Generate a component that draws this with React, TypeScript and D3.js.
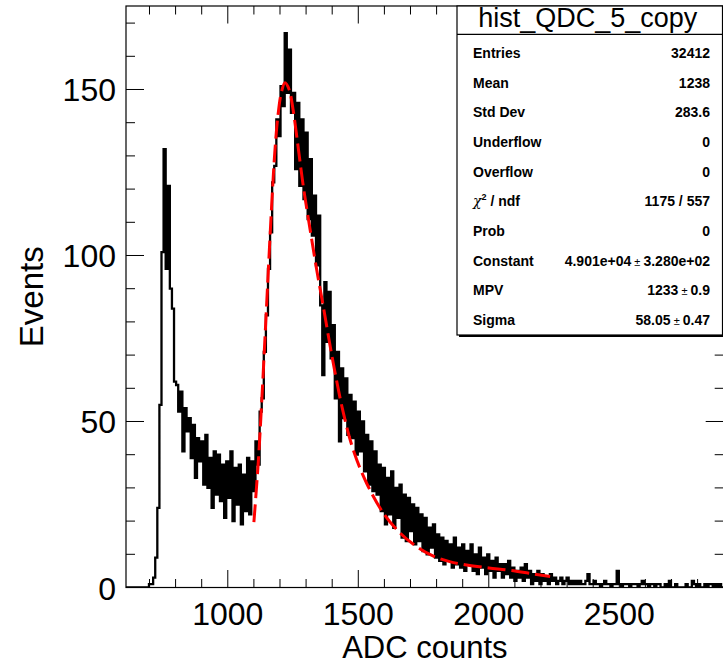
import React from "react";
import * as d3 from "d3";

// ---- data ----
const BIN_START = 610;
const BIN_WIDTH = 8;
const binCounts: number[] = [
  0, 0, 0, 0, 0, 0, 0, 0, 0, 0,
  0, 1, 1, 3, 9, 24, 55, 101, 132, 96,
  121, 90, 84, 62, 61, 53, 59, 41, 54, 47,
  51, 39, 49, 33, 45, 38, 44, 31, 46, 30,
  39, 24, 41, 28, 40, 26, 37, 21, 38, 27,
  41, 20, 36, 25, 37, 19, 34, 23, 39, 22,
  38, 29, 44, 37, 53, 57, 71, 82, 96, 107,
  122, 127, 141, 136, 151, 145, 167, 149, 162, 143,
  149, 126, 146, 121, 141, 117, 137, 111, 129, 106,
  118, 97, 112, 85, 64, 92, 74, 89, 69, 79,
  57, 71, 44, 66, 51, 63, 46, 58, 45, 56,
  40, 53, 41, 50, 35, 46, 31, 44, 29, 41,
  28, 37, 23, 36, 19, 33, 22, 35, 18, 30,
  21, 31, 15, 28, 14, 27, 17, 25, 13, 24,
  14, 22, 11, 21, 10, 18, 12, 19, 9, 16,
  8, 15, 7, 14, 8, 13, 6, 15, 7, 12,
  6, 13, 5, 11, 7, 13, 5, 10, 4, 12,
  6, 9, 4, 10, 5, 8, 3, 9, 5, 7,
  3, 7, 4, 8, 3, 6, 2, 5, 3, 6,
  2, 7, 3, 5, 1, 4, 2, 5, 1, 4,
  2, 3, 1, 4, 2, 3, 1, 2, 3, 1,
  2, 3, 1, 2, 1, 2, 1, 2, 1, 1,
  2, 4, 1, 1, 2, 1, 1, 0, 1, 2,
  1, 1, 0, 1, 1, 5, 1, 0, 1, 1,
  1, 0, 1, 1, 1, 0, 1, 2, 1, 1,
  0, 1, 1, 0, 1, 1, 0, 0, 1, 0,
  2, 0, 0, 1, 0, 0, 0, 0, 1, 0,
  0, 2, 1, 0, 1, 0, 0, 1, 0, 1,
  1, 0, 1, 0, 1, 0, 0,
];

const fitX: number[] = [1100, 1117, 1130, 1143, 1155, 1168, 1180, 1192, 1205, 1219, 1235, 1250, 1264, 1289, 1315, 1340, 1366, 1404, 1443, 1481, 1532, 1596, 1660, 1720, 1786, 1850, 1915, 2000, 2079, 2160, 2235];
const fitY: number[] = [19.7, 38, 56, 76, 95, 115, 131, 142, 149, 152, 150, 144, 136, 121, 108, 96, 84.6, 67.6, 52.5, 41.4, 31.4, 22.4, 16.4, 12.5, 9.5, 7.8, 6.8, 5.9, 5.2, 4.2, 3.3];

const xMajorTicks: number[] = [1000, 1500, 2000, 2500];
const xMinorTicks: number[] = [700, 800, 900, 1100, 1200, 1300, 1400, 1600, 1700, 1800, 1900, 2100, 2200, 2300, 2400, 2600, 2700, 2800];
const yMajorTicks: number[] = [0, 50, 100, 150];
const yMinorTicks: number[] = [10, 20, 30, 40, 60, 70, 80, 90, 110, 120, 130, 140, 160, 170];

const statsTitle = "hist_QDC_5_copy";
const statLabels: string[] = ["Entries", "Mean", "Std Dev", "Underflow", "Overflow", "CHI2", "Prob", "Constant", "MPV", "Sigma"];
const statValues: string[] = ["32412", "1238", "283.6", "0", "0", "1175 / 557", "0", "4.901e+04", "1233", "58.05"];
const statErrors: string[] = ["", "", "", "", "", "", "", "3.280e+02", "0.9", "0.47"];

const xTitle = "ADC counts";
const yTitle = "Events";

// ---- layout ----
const W = 723;
const H = 664;
const L = 126, R = 723.7, T = 6, B = 587.5;
const FONT = "'Liberation Sans', Arial, Helvetica, sans-serif";

export default function App() {
  const x = d3.scaleLinear().domain([610, 2900]).range([L, R]);
  const y = d3.scaleLinear().domain([0, 175.15]).range([B, T]);

  const pts: [number, number][] = binCounts.map((c, i) => [BIN_START + i * BIN_WIDTH, c]);
  pts.push([BIN_START + binCounts.length * BIN_WIDTH, binCounts[binCounts.length - 1]]);
  const histPath = d3
    .line<[number, number]>()
    .x((d) => x(d[0]))
    .y((d) => y(d[1]))
    .curve(d3.curveStepAfter)(pts) as string;

  const fitPts: [number, number][] = fitX.map((v, i) => [v, fitY[i]]);
  const fitPath = d3
    .line<[number, number]>()
    .x((d) => x(d[0]))
    .y((d) => y(d[1]))
    .curve(d3.curveCatmullRom.alpha(0.5))(fitPts) as string;

  const xMajLen = 17.5, xMinLen = 8.5, yMajLen = 18, yMinLen = 9;

  // stats box geometry
  const bx0 = 457, bx1 = 722.5, by0 = T, by1 = 335;
  const rowBase0 = 58, rowStep = 29.67;

  return (
    <svg
      width={W}
      height={H}
      style={{ position: "absolute", left: 0, top: 0, background: "#fff" }}
      fontFamily={FONT}
    >
      <rect x={0} y={0} width={W} height={H} fill="#fff" />
      <defs>
        <clipPath id="frameClip">
          <rect x={L} y={T} width={R - L} height={B - T} />
        </clipPath>
      </defs>

      <g clipPath="url(#frameClip)">
        <path d={histPath} fill="none" stroke="#000" strokeWidth={2.3} strokeLinejoin="miter" />
        <path d={fitPath} fill="none" stroke="#ff0000" strokeWidth={3} strokeDasharray="18 6" />
      </g>

      {/* frame */}
      <rect x={L} y={T} width={R - L} height={B - T} fill="none" stroke="#000" strokeWidth={1.2} />

      {/* x ticks bottom & top */}
      {xMajorTicks.map((t) => (
        <g key={"xM" + t}>
          <line x1={x(t)} x2={x(t)} y1={B} y2={B - xMajLen} stroke="#000" strokeWidth={1} />
          <line x1={x(t)} x2={x(t)} y1={T} y2={T + xMajLen} stroke="#000" strokeWidth={1} />
          <text x={x(t)} y={625} fontSize={32} textAnchor="middle" fill="#000">
            {t}
          </text>
        </g>
      ))}
      {xMinorTicks.map((t) => (
        <g key={"xm" + t}>
          <line x1={x(t)} x2={x(t)} y1={B} y2={B - xMinLen} stroke="#000" strokeWidth={1} />
          <line x1={x(t)} x2={x(t)} y1={T} y2={T + xMinLen} stroke="#000" strokeWidth={1} />
        </g>
      ))}

      {/* y ticks left & right */}
      {yMajorTicks.map((t) => (
        <g key={"yM" + t}>
          <line x1={L} x2={L + yMajLen} y1={y(t)} y2={y(t)} stroke="#000" strokeWidth={1} />
          <line x1={R} x2={R - yMajLen} y1={y(t)} y2={y(t)} stroke="#000" strokeWidth={1} />
          <text x={116} y={y(t) + 12} fontSize={32} textAnchor="end" fill="#000">
            {t}
          </text>
        </g>
      ))}
      {yMinorTicks.map((t) => (
        <g key={"ym" + t}>
          <line x1={L} x2={L + yMinLen} y1={y(t)} y2={y(t)} stroke="#000" strokeWidth={1} />
          <line x1={R} x2={R - yMinLen} y1={y(t)} y2={y(t)} stroke="#000" strokeWidth={1} />
        </g>
      ))}

      {/* axis titles */}
      <text x={(L + R) / 2} y={658} fontSize={31} textAnchor="middle" fill="#000">
        {xTitle}
      </text>
      <text
        transform={`translate(43, ${(T + B) / 2}) rotate(-90)`}
        fontSize={33}
        textAnchor="middle"
        fill="#000"
      >
        {yTitle}
      </text>

      {/* stats box */}
      <rect x={bx0 + 2} y={by0 + 2} width={bx1 - bx0} height={by1 - by0} fill="#000" />
      <rect x={bx0} y={by0} width={bx1 - bx0} height={by1 - by0} fill="#fff" stroke="#000" strokeWidth={1.2} />
      <line x1={bx0} x2={bx1} y1={34.3} y2={34.3} stroke="#000" strokeWidth={1.2} />
      <text x={(bx0 + bx1) / 2 - 2} y={27} fontSize={27} textAnchor="middle" fill="#000">
        {statsTitle}
      </text>
      {statLabels.map((lab, i) => {
        const yy = rowBase0 + i * rowStep;
        return (
          <g key={"s" + i}>
            <text x={473} y={yy} fontSize={14} fontWeight="bold" fill="#000">
              {lab === "CHI2" ? (
                <>
                  <tspan fontWeight="normal" fontStyle="italic" fontFamily="'DejaVu Serif', serif" fontSize={14}>
                    χ
                  </tspan>
                  <tspan fontSize={9} dy={-6}>
                    2
                  </tspan>
                  <tspan dy={6}> / ndf</tspan>
                </>
              ) : (
                lab
              )}
            </text>
            <text x={710} y={yy} fontSize={14} fontWeight="bold" textAnchor="end" fill="#000">
              {statValues[i]}
              {statErrors[i] ? (
                <>
                  <tspan fontWeight="normal" fontSize={11}>{"  ± "}</tspan>
                  <tspan>{statErrors[i]}</tspan>
                </>
              ) : null}
            </text>
          </g>
        );
      })}
    </svg>
  );
}
